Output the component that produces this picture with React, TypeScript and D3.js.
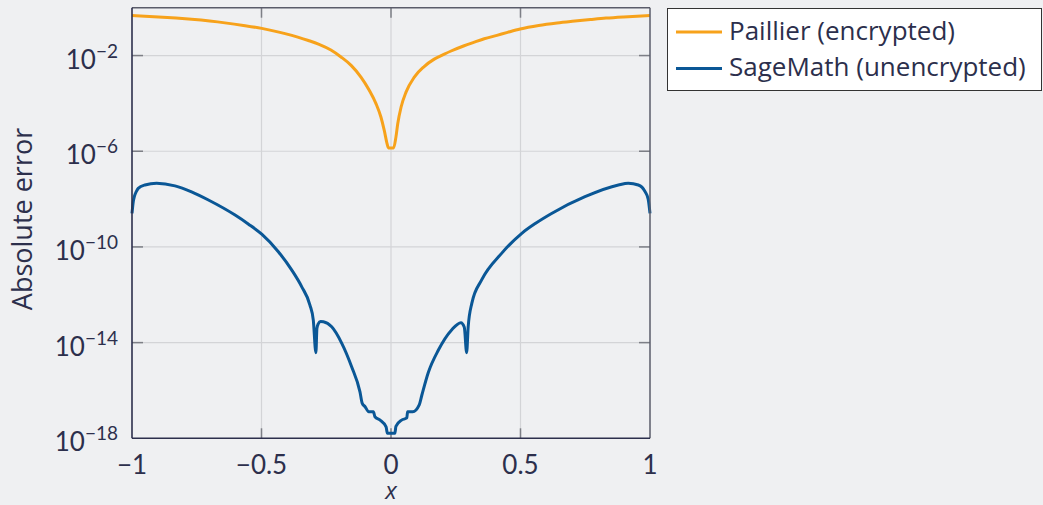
import React from 'react';
import * as d3 from 'd3';

// Paillier (encrypted): x and log10(absolute error)
const paillierX = [-1, -0.95, -0.898, -0.83, -0.77, -0.7, -0.641, -0.57, -0.499, -0.45, -0.409, -0.36, -0.319, -0.28, -0.232, -0.193, -0.154, -0.116, -0.084, -0.058, -0.039, -0.026, -0.015, -0.01, 0.01, 0.019, 0.026, 0.039, 0.058, 0.09, 0.128, 0.167, 0.206, 0.232, 0.28, 0.319, 0.36, 0.409, 0.45, 0.499, 0.57, 0.641, 0.7, 0.77, 0.83, 0.898, 0.95, 1];
const paillierLog10 = [-0.33, -0.355, -0.386, -0.435, -0.487, -0.56, -0.634, -0.74, -0.865, -0.978, -1.085, -1.23, -1.37, -1.52, -1.77, -2.06, -2.41, -2.9, -3.45, -4.01, -4.57, -5.13, -5.69, -5.86, -5.86, -5.41, -4.85, -4.15, -3.53, -2.9, -2.46, -2.15, -1.94, -1.81, -1.6, -1.45, -1.3, -1.155, -1.03, -0.89, -0.745, -0.64, -0.57, -0.495, -0.435, -0.386, -0.355, -0.33];

// SageMath (unencrypted): x and log10(absolute error)
const sageX = [-1, -0.995, -0.991, -0.983, -0.976, -0.95, -0.905, -0.834, -0.77, -0.705, -0.602, -0.55, -0.499, -0.435, -0.383, -0.345, -0.313, -0.3, -0.29, -0.286, -0.281, -0.272, -0.261, -0.229, -0.19, -0.152, -0.12, -0.111, -0.1, -0.086, -0.068, -0.062, -0.042, -0.019, -0.014, 0.015, 0.019, 0.041, 0.061, 0.064, 0.084, 0.109, 0.119, 0.144, 0.183, 0.234, 0.27, 0.283, 0.292, 0.298, 0.312, 0.35, 0.427, 0.505, 0.56, 0.62, 0.749, 0.878, 0.916, 0.955, 0.981, 0.993, 1];
const sageLog10 = [-8.6, -8.1, -7.9, -7.68, -7.55, -7.41, -7.34, -7.45, -7.7, -8.04, -8.67, -9.05, -9.47, -10.2, -10.97, -11.66, -12.43, -13.06, -14.42, -13.4, -13.22, -13.12, -13.13, -13.34, -14.03, -15.01, -16.05, -16.54, -16.68, -16.89, -16.89, -17.1, -17.24, -17.52, -17.79, -17.79, -17.5, -17.24, -17.15, -16.89, -16.89, -16.6, -16.2, -15.25, -14.31, -13.47, -13.17, -13.36, -14.42, -13.34, -12.36, -11.38, -10.27, -9.43, -9.0, -8.6, -7.9, -7.41, -7.34, -7.41, -7.69, -8.0, -8.6];

const xTicks = [-1, -0.5, 0, 0.5, 1];
const yTickExponents = [-18, -14, -10, -6, -2];
const seriesNames = ['Paillier (encrypted)', 'SageMath (unencrypted)'];
const seriesColors = ['#f7a21b', '#0a5796'];

const NUM_FONT = 'Lato, "Open Sans", sans-serif';
const TXT_FONT = '"Open Sans", Lato, sans-serif';
const TEXT = '#2c2f4c';

export default function App() {
  const W = 1043, H = 505;
  const left = 132, right = 650, top = 7.7, bottom = 438.3;
  const x = d3.scaleLinear().domain([-1, 1]).range([left, right]);
  const y = d3.scaleLog().domain([1e-18, 1]).range([bottom, top]);
  const line = d3.line<[number, number]>()
    .x(d => x(d[0]))
    .y(d => y(d[1]))
    .curve(d3.curveMonotoneX);
  const pData: [number, number][] = paillierX.map((v, i) => [v, Math.pow(10, paillierLog10[i])]);
  const sData: [number, number][] = sageX.map((v, i) => [v, Math.pow(10, sageLog10[i])]);
  const fmt = d3.format('');
  const tickColor = '#7d7f86';
  const gridColor = '#d3d4d7';

  return (
    <svg width={W} height={H} style={{ position: 'fixed', left: 0, top: 0, fontFamily: NUM_FONT }}>
      <rect x={0} y={0} width={W} height={H} fill="#eff0f2" />
      {/* grid */}
      {xTicks.slice(1, -1).map(t => (
        <line key={'gx' + t} x1={x(t)} x2={x(t)} y1={top} y2={bottom} stroke={gridColor} strokeWidth={1.2} />
      ))}
      {yTickExponents.slice(1).map(e => (
        <line key={'gy' + e} x1={left} x2={right} y1={y(Math.pow(10, e))} y2={y(Math.pow(10, e))} stroke={gridColor} strokeWidth={1.2} />
      ))}
      {/* tick marks */}
      {xTicks.slice(1, -1).map(t => (
        <g key={'tx' + t}>
          <line x1={x(t)} x2={x(t)} y1={top} y2={top + 10} stroke={tickColor} strokeWidth={1.5} />
          <line x1={x(t)} x2={x(t)} y1={bottom} y2={bottom - 10} stroke={tickColor} strokeWidth={1.5} />
        </g>
      ))}
      {yTickExponents.slice(1).map(e => (
        <g key={'ty' + e}>
          <line x1={left} x2={left + 11} y1={y(Math.pow(10, e))} y2={y(Math.pow(10, e))} stroke={tickColor} strokeWidth={1.5} />
          <line x1={right} x2={right - 11} y1={y(Math.pow(10, e))} y2={y(Math.pow(10, e))} stroke={tickColor} strokeWidth={1.5} />
        </g>
      ))}
      {/* curves */}
      <path d={line(pData) || ''} fill="none" stroke={seriesColors[0]} strokeWidth={3} strokeLinejoin="round" />
      <path d={line(sData) || ''} fill="none" stroke={seriesColors[1]} strokeWidth={3} strokeLinejoin="round" />
      {/* frame */}
      <line x1={left} x2={right} y1={top} y2={top} stroke="#5a5c6a" strokeWidth={1.5} />
      <line x1={right} x2={right} y1={top} y2={bottom} stroke="#5a5c6a" strokeWidth={1.5} />
      <line x1={left} x2={left} y1={top} y2={bottom} stroke={TEXT} strokeWidth={1.6} />
      <line x1={left} x2={right} y1={bottom} y2={bottom} stroke={TEXT} strokeWidth={1.6} />
      {/* x tick labels */}
      {xTicks.map(t => (
        <text key={'lx' + t} x={x(t)} y={474} textAnchor="middle" fontSize={26} fill={TEXT}>{fmt(t)}</text>
      ))}
      {/* y tick labels */}
      {yTickExponents.map(e => (
        <text key={'ly' + e} x={118} y={y(Math.pow(10, e)) + 13} textAnchor="end" fontSize={26} fill={TEXT}>
          10<tspan fontSize={19} dy={-11}>{fmt(e)}</tspan>
        </text>
      ))}
      {/* axis titles */}
      <text x={391} y={499} textAnchor="middle" fontSize={24} fontStyle="italic" fill={TEXT} fontFamily={TXT_FONT}>x</text>
      <text transform="translate(32,219) rotate(-90)" textAnchor="middle" fontSize={27} fill={TEXT} fontFamily={TXT_FONT}>Absolute error</text>
      {/* legend */}
      <rect x={667.5} y={8.5} width={374} height={82} fill="#ffffff" stroke="#333" strokeWidth={1} />
      {seriesNames.map((n, i) => (
        <g key={n}>
          <line x1={676} x2={722} y1={32 + i * 36.5} y2={32 + i * 36.5} stroke={seriesColors[i]} strokeWidth={3} />
          <text x={729} y={39.5 + i * 36.5} fontSize={26} fill={TEXT} fontFamily={TXT_FONT}>{n}</text>
        </g>
      ))}
    </svg>
  );
}
